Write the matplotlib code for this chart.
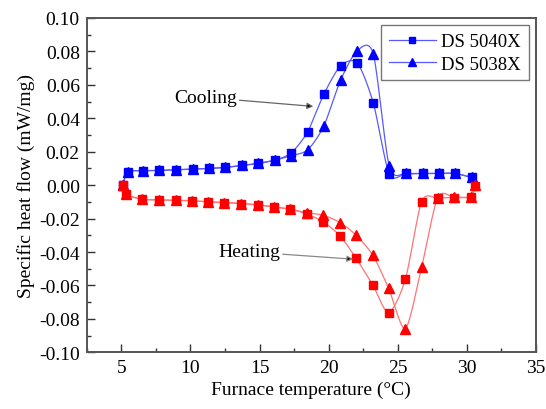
import numpy as np
import matplotlib
matplotlib.use("Agg")
import matplotlib.pyplot as plt
from matplotlib.lines import Line2D

plt.rcParams['font.family'] = ['Liberation Serif', 'DejaVu Serif']
plt.rcParams['mathtext.fontset'] = 'stix'

# Cooling run (temperature falling from ~30.5 °C)
cool_x = [30.35, 29.14, 27.98, 26.80, 25.60, 24.39, 23.23, 22.07, 20.87, 19.66,
          18.48, 17.28, 16.12, 14.91, 13.73, 12.53, 11.32, 10.17, 8.96, 7.75,
          6.59, 5.47, 5.10]
cool_5040 = [0.0046, 0.0070, 0.0070, 0.0070, 0.0070, 0.0066, 0.0491, 0.0731, 0.0714, 0.0545,
             0.0319, 0.0192, 0.0150, 0.0130, 0.0118, 0.0106, 0.0100, 0.0096, 0.0092, 0.0088,
             0.0086, 0.0080, 0.0000]
cool_5038 = [0.0046, 0.0070, 0.0070, 0.0070, 0.0070, 0.0112, 0.0784, 0.0804, 0.0629, 0.0355,
             0.0211, 0.0176, 0.0150, 0.0130, 0.0118, 0.0106, 0.0100, 0.0096, 0.0092, 0.0088,
             0.0086, 0.0080, 0.0000]

# Heating run (temperature rising from ~5 °C)
heat_x = [5.10, 5.34, 6.52, 7.73, 8.94, 10.14, 11.30, 12.45, 13.66, 14.87, 16.05, 17.20,
          18.41, 19.61, 20.82, 21.98, 23.19, 24.34, 25.55, 26.73, 27.89, 29.07, 30.28, 30.59]
heat_5040 = [0.0000, -0.0055, -0.0084, -0.0088, -0.0090, -0.0094, -0.0100, -0.0104, -0.0110,
             -0.0118, -0.0130, -0.0144, -0.0172, -0.0220, -0.0303, -0.0437, -0.0597, -0.0762,
             -0.0563, -0.0098, -0.0078, -0.0074, -0.0070, -0.0004]
heat_5038 = [0.0000, -0.0055, -0.0084, -0.0088, -0.0090, -0.0094, -0.0100, -0.0104, -0.0110,
             -0.0118, -0.0130, -0.0144, -0.0165, -0.0180, -0.0224, -0.0299, -0.0419, -0.0617,
             -0.0858, -0.0489, -0.0074, -0.0072, -0.0068, 0.0000]

series_names = ["DS 5040X", "DS 5038X"]

XLIM = (2.5, 35)
YLIM = (-0.10, 0.10)


def spline_path(x, y, n=24, tension=0.8):
    """Cardinal spline through the points, computed in axis-normalised space."""
    sx = XLIM[1] - XLIM[0]
    sy = (YLIM[1] - YLIM[0]) * 0.75
    P = np.column_stack([np.asarray(x) / sx, np.asarray(y) / sy])
    P = np.vstack([2 * P[0] - P[1], P, 2 * P[-1] - P[-2]])
    out = []
    t = np.linspace(0, 1, n, endpoint=False)[:, None]
    h00 = 2 * t ** 3 - 3 * t ** 2 + 1
    h10 = t ** 3 - 2 * t ** 2 + t
    h01 = -2 * t ** 3 + 3 * t ** 2
    h11 = t ** 3 - t ** 2
    for i in range(1, len(P) - 2):
        p0, p1, p2, p3 = P[i - 1], P[i], P[i + 1], P[i + 2]
        m1 = tension * 0.5 * (p2 - p0)
        m2 = tension * 0.5 * (p3 - p1)
        out.append(h00 * p1 + h10 * m1 + h01 * p2 + h11 * m2)
    out.append(P[-2][None, :])
    out = np.vstack(out)
    return out[:, 0] * sx, out[:, 1] * sy


fig = plt.figure(figsize=(5.46, 4.10), dpi=100)
ax = fig.add_axes([0.1588, 0.1383, 0.8229, 0.8154])

blue_line = (0.35, 0.35, 1.0)
red_line = (1.0, 0.45, 0.45)
sq_kw = dict(marker='s', markersize=5.4, linestyle='none')
tri_kw = dict(marker='^', markersize=6.6, linestyle='none')

for x, y, lc, mc, kw in [
    (cool_x, cool_5040, blue_line, 'blue', sq_kw),
    (cool_x, cool_5038, blue_line, 'blue', tri_kw),
    (heat_x, heat_5040, red_line, 'red', sq_kw),
    (heat_x, heat_5038, red_line, 'red', tri_kw),
]:
    cx, cy = spline_path(x, y)
    ax.plot(cx, cy, color=lc, lw=0.9, zorder=2)
    ax.plot(x, y, color=mc, markeredgecolor=mc, zorder=3, **kw)

ax.set_xlim(*XLIM)
ax.set_ylim(*YLIM)
ax.set_xticks(np.arange(5, 36, 5))
ax.set_xticks(np.arange(2.5, 35.1, 2.5), minor=True)
ax.set_yticks(np.arange(-0.10, 0.101, 0.02))
ax.set_yticks(np.arange(-0.10, 0.101, 0.01), minor=True)
ax.yaxis.set_major_formatter(matplotlib.ticker.FormatStrFormatter('%.2f'))
ax.tick_params(which='both', direction='in', top=False, right=False,
               labelsize=14, color='#333333')
ax.tick_params(which='major', length=6, width=1.0, pad=5)
ax.tick_params(which='minor', length=3, width=1.0)
for s in ax.spines.values():
    s.set_color('#555555')
    s.set_linewidth(1.4)

ax.set_xlabel("Furnace temperature (°C)", fontsize=14, labelpad=3)
ax.set_ylabel("Specific heat flow (mW/mg)", fontsize=14, labelpad=3)

handles = [
    Line2D([], [], color=blue_line, lw=0.9, marker='s', markersize=5,
           markerfacecolor='blue', markeredgecolor='blue'),
    Line2D([], [], color=blue_line, lw=0.9, marker='^', markersize=6,
           markerfacecolor='blue', markeredgecolor='blue'),
]
leg = ax.legend(handles, series_names, loc='upper right', fontsize=13.5,
                frameon=True, fancybox=False, edgecolor='#555555',
                handlelength=2.5, handletextpad=0.3, borderpad=0.4,
                labelspacing=0.3, borderaxespad=0.4)
leg.get_frame().set_linewidth(1.0)

arrow_kw = dict(arrowstyle='-|>', color='#666666', lw=0.9, mutation_scale=9,
                shrinkA=0, shrinkB=0)
ax.annotate("Cooling", xy=(18.89, 0.0471), xytext=(13.35, 0.0525),
            fontsize=14, ha='right', va='center',
            arrowprops=dict(arrow_kw, fc='black', ec='#666666'))
ax.annotate("Heating", xy=(21.78, -0.0443), xytext=(16.48, -0.0399),
            fontsize=14, ha='right', va='center',
            arrowprops=dict(arrow_kw, fc='black', ec='#888888'))

fig.savefig("out.png", dpi=100)
